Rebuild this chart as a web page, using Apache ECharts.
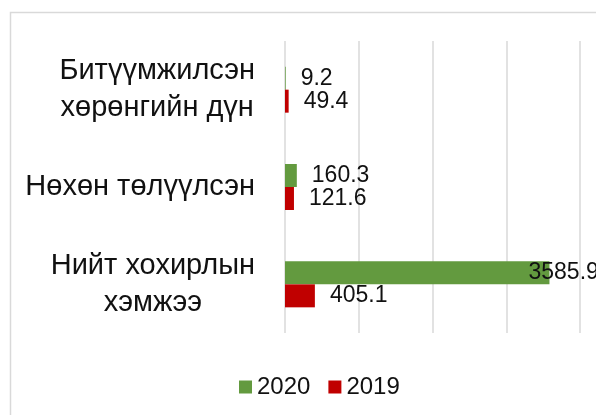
<!DOCTYPE html>
<html>
<head>
<meta charset="utf-8">
<script src="https://cdn.jsdelivr.net/npm/echarts@6/dist/echarts.min.js"></script>
<style>
html, body { margin: 0; padding: 0; background: #fff; }
#main { width: 596px; height: 415px; }
</style>
</head>
<body>
<div id="main"></div>
<script>
// categories from bottom to top
var categories = ['Нийт хохирлын\nхэмжээ', 'Нөхөн төлүүлсэн', 'Битүүмжилсэн\nхөрөнгийн дүн'];
var values2020 = [3585.9, 160.3, 9.2];
var values2019 = [405.1, 121.6, 49.4];
var legendNames = ['2020', '2019'];

var font = "Arial, 'Liberation Sans', sans-serif";

var chart = echarts.init(document.getElementById('main'));

// the long bar's label is pushed back over the bar end
var data2020 = values2020.map(function (v, i) {
	if (i === 0) return { value: v, label: { offset: [-36, 0] } };
	return v;
});

var option = {
	animation: false,
	graphic: [{
		type: 'rect',
		shape: { x: 10.5, y: 12.5, width: 700, height: 500 },
		style: { fill: 'none', stroke: '#d9d9d9', lineWidth: 1.5 },
		silent: true
	}],
	legend: {
		data: legendNames,
		left: 234,
		top: 370,
		itemWidth: 13,
		itemHeight: 13,
		itemGap: 18,
		icon: 'rect',
		textStyle: { fontSize: 24, color: '#111', fontFamily: font }
	},
	grid: { left: 285, right: 16, top: 41, bottom: 82 },
	xAxis: {
		type: 'value',
		min: 0,
		max: 4000,
		interval: 1000,
		axisLabel: { show: false },
		axisLine: { show: false },
		axisTick: { show: false },
		splitLine: { lineStyle: { color: '#d9d9d9', width: 1.5 } }
	},
	yAxis: {
		type: 'category',
		data: categories,
		axisLine: { show: false },
		axisTick: { show: false },
		axisLabel: {
			margin: 30,
			formatter: function (v) {
				return v.split('\n').map(function (s) { return '{c|' + s + '}'; }).join('\n');
			},
			rich: {
				c: { align: 'center', fontSize: 29, lineHeight: 37, color: '#111', fontFamily: font }
			}
		}
	},
	series: [
		{
			name: '2020',
			type: 'bar',
			data: data2020,
			barWidth: 23,
			barGap: '0%',
			itemStyle: { color: '#639a3f' },
			label: { show: true, position: 'right', distance: 15, fontSize: 23, color: '#111', fontFamily: font }
		},
		{
			name: '2019',
			type: 'bar',
			data: values2019,
			barWidth: 23,
			barGap: '0%',
			itemStyle: { color: '#c00000' },
			label: { show: true, position: 'right', distance: 15, fontSize: 23, color: '#111', fontFamily: font }
		}
	]
};
chart.setOption(option);
</script>
</body>
</html>
